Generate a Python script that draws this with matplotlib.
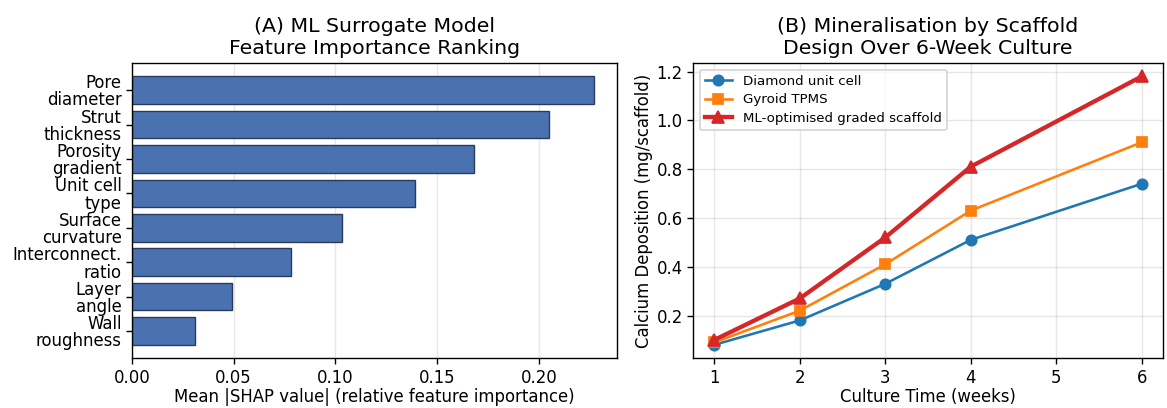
import matplotlib
matplotlib.use('Agg')
import matplotlib.pyplot as plt
import numpy as np

# Panel A: feature importance
features = ["Pore\ndiameter", "Strut\nthickness", "Porosity\ngradient", "Unit cell\ntype",
            "Surface\ncurvature", "Interconnect.\nratio", "Layer\nangle", "Wall\nroughness"]
shap_vals = [0.227, 0.205, 0.168, 0.139, 0.103, 0.078, 0.049, 0.031]

# Panel B: mineralisation
weeks = [1, 2, 3, 4, 6]
diamond = [0.08, 0.18, 0.33, 0.51, 0.74]
gyroid = [0.09, 0.22, 0.41, 0.63, 0.91]
ml_graded = [0.10, 0.27, 0.52, 0.81, 1.18]

DPI = 124
fig = plt.figure(figsize=(1167 / DPI, 408 / DPI), dpi=DPI)
ax1 = fig.add_axes([0.1131, 0.122, 0.4156, 0.7236])
ax2 = fig.add_axes([0.5938, 0.122, 0.4028, 0.7236])

fs = 9.6
y = np.arange(len(features))
ax1.barh(y, shap_vals, height=0.8, color='#4a72b0', edgecolor='#2a3a5a', linewidth=0.8, zorder=2)
ax1.set_yticks(y)
ax1.set_yticklabels(features, fontsize=fs, linespacing=0.95)
ax1.invert_yaxis()
ax1.set_xlabel("Mean |SHAP value| (relative feature importance)", fontsize=fs, labelpad=1)
ax1.set_title("(A) ML Surrogate Model\nFeature Importance Ranking", fontsize=11.9, pad=5)
ax1.grid(axis='x', alpha=0.3, zorder=0)
ax1.tick_params(labelsize=fs, pad=2.5)

ax2.plot(weeks, diamond, 'o-', color='#1f77b4', lw=1.5, ms=6, label='Diamond unit cell')
ax2.plot(weeks, gyroid, 's-', color='#ff7f0e', lw=1.5, ms=6, label='Gyroid TPMS')
ax2.plot(weeks, ml_graded, '^-', color='#d62728', lw=2.5, ms=7, label='ML-optimised graded scaffold')
ax2.set_xlabel("Culture Time (weeks)", fontsize=fs, labelpad=1)
ax2.set_ylabel("Calcium Deposition (mg/scaffold)", fontsize=fs, labelpad=2)
ax2.set_title("(B) Mineralisation by Scaffold\nDesign Over 6-Week Culture", fontsize=11.9, pad=5)
ax2.grid(alpha=0.3)
ax2.tick_params(labelsize=fs, pad=2.5)
ax2.legend(fontsize=7.8, loc='upper left', labelspacing=0.4)

fig.savefig("out.png", dpi=DPI, facecolor='white')
